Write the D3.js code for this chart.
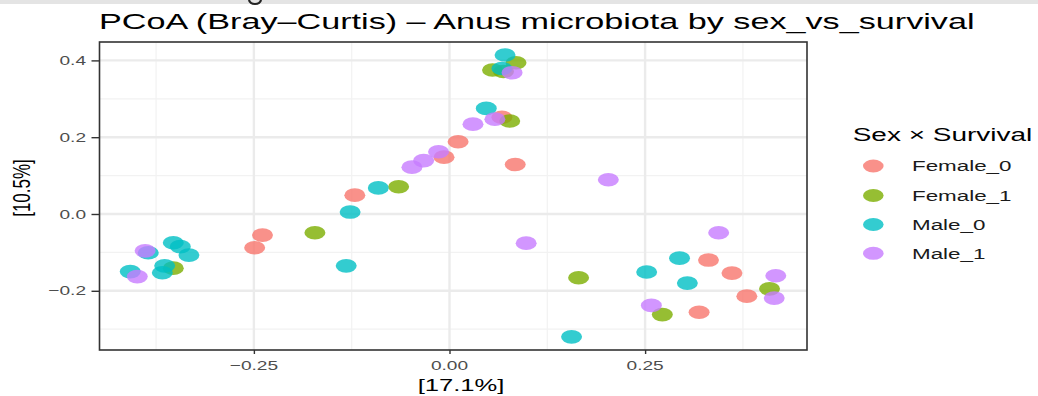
<!DOCTYPE html>
<html><head><meta charset="utf-8">
<script src="https://cdn.jsdelivr.net/npm/d3@7"></script>
<style>html,body{margin:0;padding:0;background:#fff;}svg{display:block;}</style>
</head><body>
<svg id="chart" width="1038" height="396"></svg>
<script>
const groups = ["Female_0", "Female_1", "Male_0", "Male_1"];
const groupColors = ["#F8766D", "#7CAE00", "#00BFC4", "#C77CFF"];
const xTicks = [-0.25, 0, 0.25];
const xTickLabels = ["\u22120.25", "0.00", "0.25"];
const yTicks = [-0.2, 0, 0.2, 0.4];
const yTickLabels = ["\u22120.2", "0.0", "0.2", "0.4"];
const xMinor = [-0.375, -0.125, 0.125, 0.375];
const yMinor = [-0.3, -0.1, 0.1, 0.3];

const female0X = [-0.239, -0.249, -0.121, -0.007, 0.011, 0.067, 0.084, 0.331, 0.361, 0.380, 0.319];
const female0Y = [-0.055, -0.088, 0.049, 0.148, 0.188, 0.252, 0.129, -0.120, -0.154, -0.214, -0.256];
const female1X = [-0.353, -0.172, -0.065, 0.055, 0.069, 0.085, 0.077, 0.165, 0.272, 0.409];
const female1Y = [-0.141, -0.049, 0.071, 0.375, 0.371, 0.394, 0.242, -0.166, -0.262, -0.195];
const male0X = [-0.408, -0.385, -0.353, -0.344, -0.333, -0.364, -0.367, -0.132, -0.127, -0.091, 0.047, 0.071, 0.067, 0.252, 0.294, 0.304, 0.156];
const male0Y = [-0.150, -0.101, -0.075, -0.085, -0.107, -0.135, -0.153, -0.135, 0.005, 0.068, 0.275, 0.414, 0.379, -0.151, -0.115, -0.180, -0.320];
const male1X = [-0.389, -0.399, -0.048, -0.033, -0.014, 0.030, 0.058, 0.080, 0.098, 0.203, 0.344, 0.417, 0.415, 0.258];
const male1Y = [-0.096, -0.163, 0.122, 0.139, 0.162, 0.234, 0.247, 0.368, -0.076, 0.089, -0.049, -0.161, -0.219, -0.238];

const titleText = "PCoA (Bray\u2013Curtis) \u2013 Anus microbiota by sex_vs_survival";
const xTitle = "[17.1%]";
const yTitle = "[10.5%]";
const legendTitle = "Sex \u00d7 Survival";

const seriesX = [female0X, female1X, male0X, male1X];
const seriesY = [female0Y, female1Y, male0Y, male1Y];
const points = [];
groups.forEach((g, i) => seriesX[i].forEach((x, j) => points.push({g, x, y: seriesY[i][j]})));

const svg = d3.select("#chart");
const FONT = "'Liberation Sans', Arial, sans-serif";
const panel = {l: 99.5, r: 807, t: 42, b: 350};
const x = d3.scaleLinear().domain([-0.4473, 0.4569]).range([panel.l, panel.r]);
const y = d3.scaleLinear().domain([-0.3542, 0.4479]).range([panel.b, panel.t]);
const color = d3.scaleOrdinal().domain(groups).range(groupColors);

function txt(px, py, s, size, anchor, sx, fill, rot) {
  const g = svg.append("g").attr("transform", `translate(${px},${py}) scale(${sx},1)` + (rot ? ` rotate(${rot})` : ""));
  g.append("text").attr("x", 0).attr("y", 0).attr("text-anchor", anchor)
    .attr("font-family", FONT).attr("font-size", size).attr("fill", fill).text(s);
  return g;
}

// top strip (page-crop remnant) with a small dark glyph fragment
svg.append("rect").attr("x", 0).attr("y", 0).attr("width", 1038).attr("height", 4).attr("fill", "#e4e4e4");
svg.append("path").attr("d", "M249,0 Q250,4 255,4 Q260,4 261,0").attr("fill", "none").attr("stroke", "#222").attr("stroke-width", 2.2);

// panel background & grid
svg.append("rect").attr("x", panel.l).attr("y", panel.t).attr("width", panel.r - panel.l).attr("height", panel.b - panel.t).attr("fill", "#fff");
const grid = svg.append("g");
grid.selectAll(".xm").data(xMinor).join("line").attr("x1", d => x(d)).attr("x2", d => x(d)).attr("y1", panel.t).attr("y2", panel.b).attr("stroke", "#f2f2f2").attr("stroke-width", 1.2);
grid.selectAll(".ym").data(yMinor).join("line").attr("y1", d => y(d)).attr("y2", d => y(d)).attr("x1", panel.l).attr("x2", panel.r).attr("stroke", "#f2f2f2").attr("stroke-width", 1.2);
grid.selectAll(".xM").data(xTicks).join("line").attr("x1", d => x(d)).attr("x2", d => x(d)).attr("y1", panel.t).attr("y2", panel.b).attr("stroke", "#ebebeb").attr("stroke-width", 2.4);
grid.selectAll(".yM").data(yTicks).join("line").attr("y1", d => y(d)).attr("y2", d => y(d)).attr("x1", panel.l).attr("x2", panel.r).attr("stroke", "#ebebeb").attr("stroke-width", 2.4);

// points
svg.append("g").selectAll("ellipse").data(points).join("ellipse")
  .attr("cx", d => x(d.x)).attr("cy", d => y(d.y)).attr("rx", 10.5).attr("ry", 6.8)
  .attr("fill", d => color(d.g)).attr("fill-opacity", 0.8);

// border
svg.append("rect").attr("x", panel.l).attr("y", panel.t).attr("width", panel.r - panel.l).attr("height", panel.b - panel.t)
  .attr("fill", "none").attr("stroke", "#333333").attr("stroke-width", 1.6);

// axes ticks using d3 axes
const xAxis = svg.append("g").attr("transform", `translate(0,${panel.b})`)
  .call(d3.axisBottom(x).tickValues(xTicks).tickSize(4).tickFormat(""));
xAxis.select(".domain").remove();
xAxis.selectAll(".tick line").attr("stroke", "#333").attr("stroke-width", 1.4);
const yAxis = svg.append("g").attr("transform", `translate(${panel.l},0)`)
  .call(d3.axisLeft(y).tickValues(yTicks).tickSize(8).tickFormat(""));
yAxis.select(".domain").remove();
yAxis.selectAll(".tick line").attr("stroke", "#333").attr("stroke-width", 1.4);

xTicks.forEach((t, i) => txt(x(t), 370, xTickLabels[i], 13, "middle", 1.47, "#4d4d4d"));
yTicks.forEach((t, i) => txt(86, y(t) + 4.7, yTickLabels[i], 13, "end", 1.47, "#4d4d4d"));

// titles
txt(99, 28.5, titleText, 21.3, "start", 1.605, "#000");
txt(461, 391, xTitle, 16, "middle", 1.6, "#000");
txt(30, 188, yTitle, 17, "middle", 1.42, "#000", -90);

// legend
txt(852.7, 140.7, legendTitle, 17.5, "start", 1.6, "#000");
const ly = [166, 195.5, 224.5, 253.3];
groups.forEach((g, i) => {
  svg.append("ellipse").attr("cx", 873.3).attr("cy", ly[i]).attr("rx", 10.3).attr("ry", 6.5)
    .attr("fill", color(g)).attr("fill-opacity", 0.8);
  txt(912, ly[i] + 5.2, g, 14, "start", 1.6, "#1a1a1a");
});
</script>
</body></html>
